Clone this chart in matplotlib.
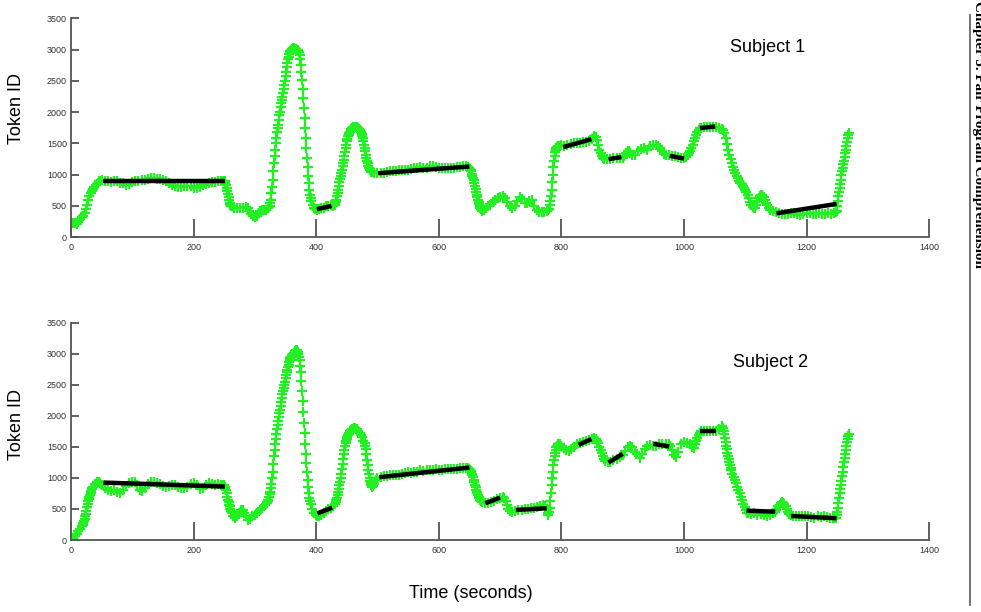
import matplotlib
matplotlib.use("Agg")
import matplotlib.pyplot as plt
from matplotlib.lines import Line2D

# ---------------- data: (time in s, token id) ----------------
s1_start = [(0, 240), (3, 230), (6, 220), (9, 210), (12, 240), (15, 290), (18, 320), (20, 340), (22, 380),
            (24, 450), (26, 520), (28, 600), (30, 650), (32, 700), (34, 740), (36, 770), (38, 800), (40, 830),
            (42, 850), (44, 870), (46, 890), (48, 900)]
s1_plateau = [(51, 910), (55, 890), (60, 900), (65, 880), (70, 900), (75, 890), (80, 870), (85, 860), (90, 840),
              (95, 850), (100, 880), (105, 900), (110, 890), (115, 910), (120, 920), (125, 930), (130, 940),
              (135, 940), (140, 935), (145, 930), (150, 920), (155, 890), (160, 860), (165, 830), (170, 810),
              (175, 800), (180, 800), (185, 810), (190, 820), (195, 810), (200, 790), (205, 780), (210, 800),
              (215, 830), (220, 850), (225, 870), (230, 880), (235, 880), (240, 890), (245, 900), (248, 900)]
s1_valley = [(250, 900), (251, 890), (252, 870), (253, 840), (254, 790), (255, 740), (256, 690), (257, 640),
             (258, 590), (259, 550), (260, 520), (261, 500), (262, 490), (266, 470), (270, 470), (275, 470),
             (280, 470), (285, 480), (288, 460), (291, 420), (294, 370), (297, 330), (300, 320), (303, 340),
             (306, 380), (309, 420), (312, 430), (315, 430), (318, 440), (321, 460), (323, 480)]
s1_peak = [(324, 500), (325, 540), (326, 600), (327, 700), (328, 800), (329, 920), (330, 1050), (331, 1180),
           (332, 1300), (333, 1400), (334, 1500), (335, 1590), (336, 1680), (337, 1740), (338, 1800), (339, 1880),
           (340, 1950), (341, 2010), (342, 2080), (343, 2140), (344, 2200), (345, 2250), (346, 2310), (347, 2370),
           (348, 2430), (349, 2500), (350, 2580), (351, 2650), (352, 2720), (353, 2790), (354, 2850), (355, 2890),
           (356, 2930), (357, 2960), (358, 2980), (359, 3000), (360, 3010), (361, 3015), (362, 3020), (363, 3020),
           (364, 3020), (365, 3015), (366, 3010), (367, 3005), (368, 3000), (369, 3000), (370, 2990), (371, 2980),
           (372, 2960), (373, 2910), (374, 2850), (375, 2750), (376, 2640), (377, 2510), (378, 2370), (379, 2220),
           (380, 2060), (381, 1900), (382, 1740), (383, 1580), (384, 1420), (385, 1270), (386, 1120), (387, 980),
           (388, 860), (389, 760), (390, 680), (391, 620), (392, 580), (394, 510), (396, 470), (398, 450)]
s1_hump = [(401, 440), (404, 450), (408, 460), (412, 470), (416, 490), (420, 500), (424, 510), (428, 500),
           (430, 510), (431, 530), (432, 560), (433, 600), (434, 650), (435, 700), (436, 760), (437, 820),
           (438, 880), (439, 930), (440, 980), (441, 1030), (442, 1080), (443, 1130), (444, 1180), (445, 1240),
           (446, 1300), (447, 1360), (448, 1420), (449, 1480), (450, 1530), (451, 1570), (452, 1610), (453, 1640),
           (454, 1670), (455, 1690), (456, 1710), (457, 1730), (458, 1740), (460, 1755), (462, 1760), (464, 1760),
           (466, 1760), (468, 1750), (470, 1730), (471, 1715), (472, 1700), (473, 1680), (474, 1650), (475, 1620),
           (476, 1580), (477, 1530), (478, 1480), (479, 1430), (480, 1380), (481, 1320), (482, 1270), (483, 1220),
           (484, 1180), (485, 1140), (486, 1110), (487, 1090), (488, 1070), (489, 1055), (490, 1045), (491, 1040),
           (495, 1030)]
s1_mid = [(500, 1020), (505, 1030), (510, 1030), (515, 1040), (520, 1050), (525, 1060), (530, 1060), (535, 1070),
          (540, 1080), (545, 1070), (550, 1080), (555, 1090), (560, 1100), (565, 1110), (570, 1120), (575, 1110),
          (580, 1110), (585, 1130), (590, 1130), (595, 1120), (600, 1110), (605, 1110), (610, 1100), (615, 1100),
          (620, 1110), (625, 1110), (630, 1120), (635, 1120), (640, 1130), (645, 1130), (648, 1120)]
s1_drop = [(650, 1110), (651, 1090), (652, 1070), (653, 1050), (654, 1010), (655, 980), (656, 950), (657, 910),
           (658, 860), (659, 820), (660, 770), (661, 720), (662, 680), (663, 640), (664, 600), (665, 560),
           (666, 530), (667, 500), (668, 470), (669, 450), (670, 430), (671, 420), (674, 430), (677, 460),
           (680, 490), (684, 520), (688, 560), (692, 600), (696, 620), (700, 640), (704, 660), (708, 620),
           (712, 560), (716, 500), (720, 460), (724, 500), (728, 580), (732, 640), (736, 610), (740, 550),
           (744, 540), (748, 580), (752, 590), (756, 500), (760, 430), (764, 400), (768, 400), (772, 400),
           (776, 420), (779, 440)]
s1_high = [(780, 450), (781, 520), (782, 580), (783, 650), (784, 750), (785, 880), (786, 1000), (787, 1120),
           (788, 1220), (789, 1300), (790, 1360), (791, 1400), (792, 1420), (793, 1440), (794, 1450), (797, 1460),
           (800, 1470), (805, 1460), (810, 1480), (815, 1490), (820, 1500), (825, 1510), (830, 1500), (835, 1520),
           (840, 1520), (845, 1540), (850, 1570), (854, 1610), (856, 1600), (858, 1560), (860, 1480), (862, 1400),
           (864, 1340), (866, 1300), (868, 1270), (870, 1250), (875, 1250), (880, 1250), (885, 1260), (890, 1260),
           (895, 1270), (900, 1270), (903, 1300), (906, 1340), (908, 1380), (910, 1370), (912, 1350), (916, 1310),
           (920, 1320), (925, 1370), (930, 1410), (935, 1420), (940, 1400), (945, 1450), (950, 1470), (955, 1480),
           (958, 1460), (961, 1420), (964, 1370), (967, 1330), (970, 1310), (975, 1310), (980, 1300), (985, 1290),
           (990, 1280), (995, 1270), (1000, 1260)]
s1_late = [(1003, 1280), (1006, 1310), (1008, 1340), (1010, 1380), (1012, 1420), (1014, 1470), (1016, 1530),
           (1018, 1590), (1020, 1640), (1022, 1690), (1024, 1720), (1026, 1740), (1028, 1750), (1033, 1760),
           (1038, 1760), (1043, 1770), (1048, 1770), (1053, 1760), (1058, 1750), (1062, 1730), (1064, 1710),
           (1066, 1660), (1068, 1580), (1070, 1490), (1072, 1400), (1074, 1320), (1076, 1250), (1078, 1180),
           (1080, 1120), (1082, 1070), (1084, 1020), (1086, 980), (1088, 940), (1090, 900), (1092, 870),
           (1094, 850), (1096, 820), (1098, 790), (1100, 760), (1102, 720), (1104, 680), (1106, 620), (1108, 560),
           (1110, 510), (1112, 480), (1114, 460), (1116, 470), (1118, 510), (1120, 570), (1122, 620), (1124, 660),
           (1126, 680), (1128, 670), (1130, 640), (1132, 600), (1134, 550), (1136, 510), (1138, 470), (1140, 440),
           (1145, 420), (1150, 400), (1155, 380), (1160, 370), (1165, 370), (1170, 370), (1175, 380), (1180, 380),
           (1185, 370), (1190, 360), (1195, 370), (1200, 380), (1205, 380), (1210, 370), (1215, 370), (1220, 380),
           (1225, 370), (1230, 370), (1235, 380), (1240, 370), (1245, 380), (1248, 400), (1249, 420), (1250, 500),
           (1251, 580), (1252, 650), (1253, 720), (1254, 790), (1255, 850), (1256, 920), (1257, 990), (1258, 1050),
           (1259, 1110), (1260, 1170), (1261, 1220), (1262, 1280), (1263, 1340), (1264, 1400), (1265, 1460),
           (1266, 1520), (1267, 1580), (1268, 1630), (1269, 1670)]

s2_start = [(0, 0), (3, 20), (6, 60), (9, 100), (12, 140), (15, 170), (18, 220), (19, 240), (20, 270), (21, 300),
            (22, 340), (23, 380), (24, 420), (25, 470), (26, 530), (27, 580), (28, 620), (29, 660), (30, 700),
            (31, 730), (32, 760), (33, 790), (34, 820), (35, 840), (36, 860), (39, 900), (42, 930), (45, 940),
            (48, 920)]
s2_plateau = [(51, 880), (55, 830), (60, 800), (65, 790), (70, 800), (75, 780), (80, 760), (85, 800), (90, 870),
              (95, 920), (100, 940), (104, 930), (108, 880), (112, 810), (116, 790), (120, 830), (125, 900),
              (130, 940), (135, 940), (140, 920), (145, 900), (150, 870), (155, 860), (160, 870), (165, 890),
              (170, 880), (175, 860), (180, 840), (185, 830), (190, 850), (195, 900), (200, 920), (205, 880),
              (210, 820), (215, 840), (220, 890), (225, 910), (230, 900), (235, 890), (240, 900), (245, 890),
              (248, 885)]
s2_valley = [(250, 880), (251, 860), (252, 830), (253, 800), (254, 750), (255, 700), (256, 650), (257, 610),
             (258, 570), (259, 540), (260, 500), (261, 470), (262, 440), (265, 380), (268, 350), (271, 380),
             (274, 440), (277, 480), (280, 480), (283, 440), (286, 380), (289, 330), (292, 340), (296, 380),
             (300, 410), (304, 440), (308, 480), (312, 520), (316, 560), (319, 590)]
s2_peak = [(320, 610), (321, 630), (322, 650), (323, 700), (324, 740), (325, 780), (326, 840), (327, 900),
           (328, 1000), (329, 1100), (330, 1220), (331, 1350), (332, 1450), (333, 1550), (334, 1630), (335, 1700),
           (336, 1780), (337, 1850), (338, 1920), (339, 1980), (340, 2040), (341, 2100), (342, 2160), (343, 2220),
           (344, 2290), (345, 2350), (346, 2400), (347, 2450), (348, 2500), (349, 2550), (350, 2600), (351, 2650),
           (352, 2700), (353, 2740), (354, 2780), (355, 2820), (356, 2860), (357, 2900), (358, 2930), (359, 2950),
           (360, 2970), (361, 2980), (362, 2990), (363, 3000), (364, 3015), (365, 3030), (366, 3040), (367, 3050),
           (368, 3050), (369, 3040), (370, 3020), (371, 3000), (372, 2950), (373, 2900), (374, 2800), (375, 2700),
           (376, 2560), (377, 2400), (378, 2230), (379, 2060), (380, 1890), (381, 1720), (382, 1550), (383, 1390),
           (384, 1240), (385, 1090), (386, 960), (387, 850), (388, 760), (389, 680), (390, 620), (391, 580),
           (393, 500), (396, 440), (399, 400)]
s2_hump = [(402, 380), (405, 380), (408, 410), (412, 440), (416, 470), (420, 500), (424, 520), (428, 540),
           (431, 580), (432, 610), (433, 640), (434, 680), (435, 720), (436, 770), (437, 820), (438, 880),
           (439, 940), (440, 1000), (441, 1070), (442, 1140), (443, 1220), (444, 1300), (445, 1380), (446, 1450),
           (447, 1510), (448, 1560), (449, 1600), (450, 1630), (451, 1660), (452, 1690), (453, 1710), (454, 1730),
           (455, 1750), (456, 1760), (457, 1770), (458, 1780), (461, 1800), (464, 1800), (467, 1780), (469, 1760),
           (471, 1730), (473, 1690), (475, 1650), (477, 1600), (479, 1560), (480, 1520), (481, 1460), (482, 1380),
           (483, 1290), (484, 1200), (485, 1130), (486, 1060), (487, 1000), (488, 950), (489, 910), (490, 880),
           (491, 860), (492, 870), (494, 900), (497, 960)]
s2_mid = [(500, 1000), (505, 1010), (510, 1030), (515, 1030), (520, 1050), (525, 1040), (530, 1050), (535, 1050),
          (540, 1060), (545, 1080), (550, 1090), (555, 1080), (560, 1100), (565, 1100), (570, 1120), (575, 1110),
          (580, 1120), (585, 1130), (590, 1130), (595, 1140), (600, 1130), (605, 1120), (610, 1140), (615, 1140),
          (620, 1150), (625, 1140), (630, 1150), (635, 1160), (640, 1160), (645, 1160), (648, 1155)]
s2_drop = [(650, 1150), (651, 1130), (652, 1110), (653, 1090), (654, 1060), (655, 1040), (656, 1010), (657, 970),
           (658, 930), (659, 890), (660, 850), (661, 810), (662, 780), (663, 750), (664, 720), (665, 690),
           (666, 670), (667, 650), (668, 640), (669, 630), (670, 620), (671, 615), (675, 600), (680, 600),
           (685, 610), (690, 630), (695, 660), (700, 680), (704, 700), (707, 670), (709, 620), (711, 560),
           (713, 500), (716, 460), (720, 450), (725, 460), (730, 480), (735, 490), (740, 500), (745, 500),
           (750, 510), (755, 520), (760, 530), (765, 540), (770, 560), (774, 540), (776, 500), (778, 440)]
s2_high = [(779, 400), (780, 450), (781, 520), (782, 620), (783, 750), (784, 880), (785, 1000), (786, 1100),
           (787, 1200), (788, 1280), (789, 1350), (790, 1400), (791, 1450), (792, 1490), (793, 1520), (794, 1540),
           (795, 1550), (797, 1550), (800, 1520), (804, 1480), (808, 1450), (812, 1440), (816, 1460), (820, 1500),
           (825, 1540), (830, 1560), (835, 1580), (840, 1600), (845, 1610), (850, 1620), (854, 1640), (856, 1630),
           (858, 1600), (860, 1560), (862, 1500), (864, 1450), (866, 1400), (868, 1350), (870, 1300), (872, 1270),
           (876, 1260), (880, 1260), (885, 1280), (890, 1310), (895, 1330), (900, 1370), (904, 1430), (908, 1500),
           (912, 1520), (916, 1490), (920, 1420), (924, 1380), (928, 1320), (932, 1380), (936, 1460), (940, 1510),
           (945, 1530), (950, 1520), (955, 1510), (960, 1540), (965, 1550), (970, 1540), (975, 1540), (978, 1510),
           (981, 1450), (984, 1370), (987, 1340), (991, 1420), (995, 1540), (1000, 1570)]
s2_late = [(1005, 1560), (1010, 1540), (1013, 1500), (1016, 1480), (1018, 1540), (1020, 1590), (1022, 1640),
           (1024, 1690), (1026, 1720), (1028, 1750), (1033, 1750), (1038, 1750), (1043, 1750), (1048, 1750),
           (1053, 1760), (1058, 1790), (1062, 1830), (1064, 1810), (1065, 1760), (1066, 1700), (1067, 1640),
           (1068, 1580), (1069, 1520), (1070, 1460), (1071, 1400), (1072, 1350), (1073, 1300), (1074, 1250),
           (1075, 1200), (1076, 1160), (1077, 1120), (1079, 1060), (1081, 1010), (1083, 960), (1085, 910),
           (1087, 860), (1089, 800), (1091, 750), (1093, 690), (1095, 640), (1097, 580), (1099, 530), (1101, 480),
           (1103, 440), (1105, 430), (1110, 420), (1115, 430), (1120, 410), (1125, 420), (1130, 400), (1135, 390),
           (1140, 410), (1145, 430), (1148, 450), (1151, 480), (1154, 540), (1156, 570), (1158, 600), (1160, 610),
           (1162, 600), (1164, 580), (1166, 540), (1168, 500), (1170, 450), (1172, 420), (1174, 410), (1178, 390),
           (1183, 390), (1188, 390), (1193, 380), (1198, 390), (1203, 380), (1208, 370), (1213, 360), (1218, 380),
           (1223, 370), (1228, 380), (1233, 370), (1238, 360), (1243, 360), (1247, 360), (1248, 360), (1249, 400),
           (1250, 450), (1251, 520), (1252, 600), (1253, 680), (1254, 750), (1255, 820), (1256, 890), (1257, 950),
           (1258, 1030), (1259, 1100), (1260, 1180), (1261, 1250), (1262, 1320), (1263, 1380), (1264, 1450),
           (1265, 1510), (1266, 1580), (1267, 1630), (1268, 1670), (1269, 1700)]

# fitted segments: start time, start token, end time, end token
s1_seg_t0 = [52, 401, 501, 803, 877, 977, 1026, 1151]
s1_seg_v0 = [900, 445, 1022, 1439, 1247, 1300, 1745, 380]
s1_seg_t1 = [251, 425, 650, 849, 898, 1000, 1051, 1249]
s1_seg_v1 = [900, 498, 1129, 1568, 1280, 1257, 1771, 530]

s2_seg_t0 = [53, 402, 503, 676, 726, 828, 877, 950, 1026, 1102, 1175]
s2_seg_v0 = [925, 430, 1011, 591, 484, 1532, 1247, 1548, 1747, 473, 387]
s2_seg_t1 = [251, 426, 650, 700, 776, 849, 900, 976, 1052, 1149, 1249]
s2_seg_v1 = [860, 521, 1166, 683, 511, 1624, 1387, 1505, 1747, 456, 350]

subject_labels = ["Subject 1", "Subject 2"]
x_ticks = [0, 200, 400, 600, 800, 1000, 1200, 1400]
y_ticks = [0, 500, 1000, 1500, 2000, 2500, 3000, 3500]

s1_points = s1_start + s1_plateau + s1_valley + s1_peak + s1_hump + s1_mid + s1_drop + s1_high + s1_late
s2_points = s2_start + s2_plateau + s2_valley + s2_peak + s2_hump + s2_mid + s2_drop + s2_high + s2_late

# ---------------- figure ----------------
fig = plt.figure(figsize=(9.81, 6.12), dpi=100)
fig.patch.set_facecolor("white")

ax_pos = [[0.0724, 0.6127, 0.8747, 0.3571],
          [0.0724, 0.1176, 0.8747, 0.3554]]
series = [(s1_points, s1_seg_t0, s1_seg_v0, s1_seg_t1, s1_seg_v1),
          (s2_points, s2_seg_t0, s2_seg_v0, s2_seg_t1, s2_seg_v1)]
label_xy = [(0.782, 0.923), (0.785, 0.408)]
ylabel_y = [1 - 108 / 612, 1 - 425 / 612]

tick_font = ["Liberation Sans", "DejaVu Sans"]
for i, (pts, a0, b0, a1, b1) in enumerate(series):
    ax = fig.add_axes(ax_pos[i])
    tt = [p[0] for p in pts]
    vv = [p[1] for p in pts]
    ax.plot(tt, vv, linestyle="none", marker="+", markersize=6.5, markeredgewidth=1.6,
            color="#22f022", zorder=2)
    for k in range(len(a0)):
        ax.plot([a0[k], a1[k]], [b0[k], b1[k]], color="black", linewidth=3.2,
                solid_capstyle="butt", zorder=3)
    ax.set_xlim(0, 1400)
    ax.set_ylim(0, 3500)
    ax.set_xticks(x_ticks)
    ax.set_yticks(y_ticks)
    for side in ["top", "right"]:
        ax.spines[side].set_visible(False)
    for side in ["left", "bottom"]:
        ax.spines[side].set_color("#555555")
        ax.spines[side].set_linewidth(1.3)
    ax.tick_params(axis="x", direction="in", length=13, width=1.3, color="#555555",
                   pad=4, labelsize=6.5, labelcolor="#333333")
    ax.tick_params(axis="y", direction="in", length=6, width=1.3, color="#555555",
                   pad=3, labelsize=6.5, labelcolor="#333333")
    for lab in ax.get_xticklabels() + ax.get_yticklabels():
        lab.set_family(tick_font)
    ax.patch.set_alpha(0)
    fig.text(0.0173, ylabel_y[i], "Token ID", rotation=90,
             ha="center", va="center", fontsize=13, family=["Liberation Sans", "DejaVu Sans"])
    fig.text(label_xy[i][0], label_xy[i][1], subject_labels[i], ha="center", va="center",
             fontsize=13, family=["Liberation Sans", "DejaVu Sans"])

fig.text(0.480, 0.031, "Time (seconds)", ha="center", va="center", fontsize=13,
         family=["Liberation Sans", "DejaVu Sans"])

# page margin rule and running header (cut at the right edge, as in the source page)
fig.add_artist(Line2D([0.9888, 0.9888], [1 - 15 / 612, 1 - 605 / 612], transform=fig.transFigure,
                      color="#666666", linewidth=1.3))
fig.text(0.9905, 0.999, "Chapter 5. Pair Program Comprehension", rotation=-90, ha="left", va="top",
         fontsize=10.9, fontweight="bold", family=["Liberation Serif", "DejaVu Serif"], color="black")

fig.savefig("out.png", dpi=100)
